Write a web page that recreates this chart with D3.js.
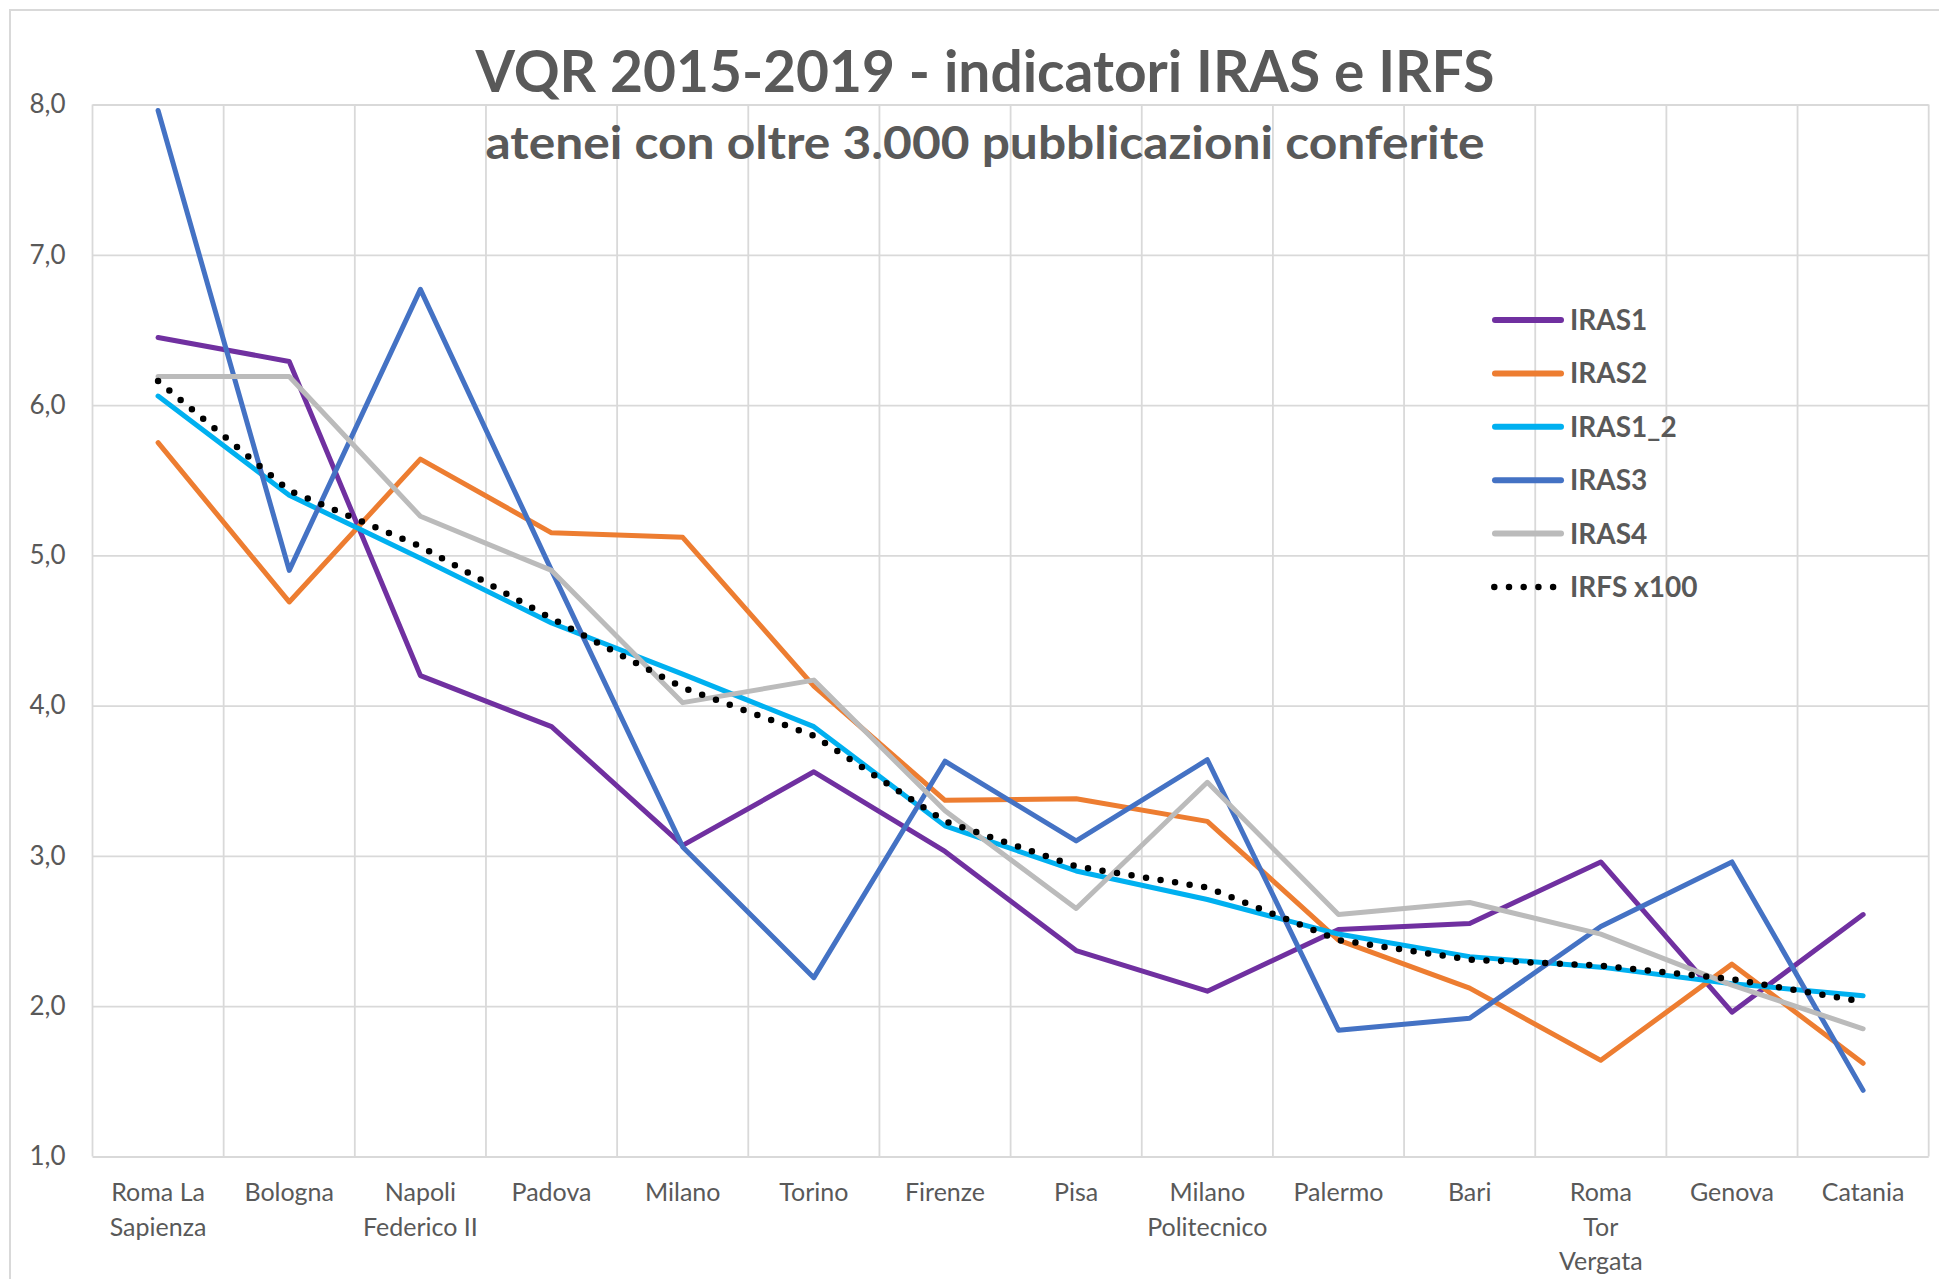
<!DOCTYPE html>
<html>
<head>
<meta charset="utf-8">
<script src="https://cdn.jsdelivr.net/npm/d3@7"></script>
<style>
    body { margin: 0; background: #ffffff; }
    svg { display: block; }
</style>
</head>
<body>
<div id="chart"></div>
<script>
const categories = ['Roma La\nSapienza', 'Bologna', 'Napoli\nFederico II', 'Padova', 'Milano', 'Torino',
    'Firenze', 'Pisa', 'Milano\nPolitecnico', 'Palermo', 'Bari', 'Roma\nTor\nVergata', 'Genova', 'Catania'];

const seriesNames = ['IRAS1', 'IRAS2', 'IRAS1_2', 'IRAS3', 'IRAS4', 'IRFS x100'];
const seriesColors = ['#7030A0', '#ED7D31', '#00B0F0', '#4472C4', '#BBBBBB', '#000000'];

const iras1 = [6.45, 6.29, 4.20, 3.86, 3.07, 3.56, 3.03, 2.37, 2.10, 2.51, 2.55, 2.96, 1.96, 2.61];
const iras2 = [5.75, 4.69, 5.64, 5.15, 5.12, 4.13, 3.37, 3.38, 3.23, 2.44, 2.12, 1.64, 2.28, 1.62];
const iras1_2 = [6.06, 5.40, 4.98, 4.55, 4.21, 3.86, 3.20, 2.90, 2.71, 2.48, 2.33, 2.26, 2.15, 2.07];
const iras3 = [7.96, 4.90, 6.77, 4.90, 3.06, 2.19, 3.63, 3.10, 3.64, 1.84, 1.92, 2.53, 2.96, 1.44];
const iras4 = [6.19, 6.19, 5.26, 4.90, 4.02, 4.17, 3.30, 2.65, 3.49, 2.61, 2.69, 2.48, 2.14, 1.85];
const irfs = [6.16, 5.43, 5.06, 4.58, 4.12, 3.80, 3.23, 2.93, 2.79, 2.44, 2.31, 2.27, 2.18, 2.03];

const yTicks = [1, 2, 3, 4, 5, 6, 7, 8];

const seriesValues = [iras1, iras2, iras1_2, iras3, iras4, irfs];

const svgWidth = 1939;
const svgHeight = 1279;
const textColor = '#595959';
const gridColor = '#D9D9D9';
const fontFamily = 'Lato, "Open Sans", sans-serif';

const plotLeft = 92.5;
const plotRight = 1928.7;
const plotTop = 104.5;
const plotBottom = 1156.5;

const svg = d3.select('#chart')
    .append('svg')
    .attr('width', svgWidth)
    .attr('height', svgHeight)
    .attr('viewBox', '0 0 ' + svgWidth + ' ' + svgHeight);

// chart area border
svg.append('rect')
    .attr('x', 10)
    .attr('y', 10)
    .attr('width', svgWidth + 20)
    .attr('height', svgHeight + 20)
    .attr('fill', 'white')
    .attr('stroke', gridColor)
    .attr('stroke-width', 2);

const x = d3.scaleBand()
    .domain(categories)
    .range([plotLeft, plotRight])
    .paddingInner(0)
    .paddingOuter(0);

const y = d3.scaleLinear()
    .domain([1, 8])
    .range([plotBottom, plotTop]);

const itLocale = d3.formatLocale({ decimal: ',', thousands: '.', grouping: [3], currency: ['', ' €'] });
const formatTick = itLocale.format('.1f');

// horizontal gridlines + y labels
const yAxis = d3.axisLeft(y)
    .tickValues(yTicks)
    .tickSize(-(plotRight - plotLeft))
    .tickPadding(27)
    .tickFormat(formatTick);

const yAxisGroup = svg.append('g')
    .attr('transform', `translate(${plotLeft}, 0)`)
    .call(yAxis);

yAxisGroup.select('.domain').remove();
yAxisGroup.selectAll('.tick line')
    .attr('stroke', gridColor)
    .attr('stroke-width', 1.8);
yAxisGroup.selectAll('.tick text')
    .attr('fill', textColor)
    .attr('font-family', fontFamily)
    .attr('font-size', 26);

// vertical gridlines at category edges
const edges = categories.map(c => x(c)).concat([plotRight]);
svg.append('g')
    .selectAll('line')
    .data(edges)
    .join('line')
    .attr('x1', d => d)
    .attr('x2', d => d)
    .attr('y1', plotTop)
    .attr('y2', plotBottom)
    .attr('stroke', gridColor)
    .attr('stroke-width', 1.8);

// x labels
const xLabels = svg.append('g');
categories.forEach(cat => {
    const lines = cat.split('\n');
    const label = xLabels.append('text')
        .attr('text-anchor', 'middle')
        .attr('fill', textColor)
        .attr('font-family', fontFamily)
        .attr('font-size', 25);
    lines.forEach((line, i) => {
        label.append('tspan')
            .attr('x', x(cat) + x.bandwidth() / 2)
            .attr('y', 1201 + i * 34.5)
            .text(line);
    });
});

// series lines
const lineGen = d3.line()
    .x((d, i) => x(categories[i]) + x.bandwidth() / 2)
    .y(d => y(d));

seriesValues.forEach((values, s) => {
    const path = svg.append('path')
        .datum(values)
        .attr('d', lineGen)
        .attr('fill', 'none')
        .attr('stroke', seriesColors[s])
        .attr('stroke-linecap', 'round')
        .attr('stroke-linejoin', 'round');
    if (s === seriesValues.length - 1) {
        path.attr('stroke-width', 6.5)
            .attr('stroke-dasharray', '0 14.7');
    } else {
        path.attr('stroke-width', 5);
    }
});

// legend
const legend = svg.append('g');
seriesNames.forEach((name, s) => {
    const rowY = 320 + s * 53.4;
    const dotted = s === seriesNames.length - 1;
    legend.append('line')
        .attr('x1', dotted ? 1494.3 : 1495)
        .attr('x2', dotted ? 1560 : 1561)
        .attr('y1', rowY)
        .attr('y2', rowY)
        .attr('stroke', seriesColors[s])
        .attr('stroke-width', dotted ? 6.5 : 6)
        .attr('stroke-linecap', 'round')
        .attr('stroke-dasharray', dotted ? '0 14.7' : null);
    legend.append('text')
        .attr('x', 1570)
        .attr('y', rowY + 10)
        .attr('fill', textColor)
        .attr('font-family', fontFamily)
        .attr('font-weight', 'bold')
        .attr('font-size', 28)
        .text(name);
});

// titles
svg.append('text')
    .attr('x', 985)
    .attr('y', 92)
    .attr('text-anchor', 'middle')
    .attr('fill', textColor)
    .attr('font-family', fontFamily)
    .attr('font-weight', 'bold')
    .attr('font-size', 58)
    .attr('textLength', 1019)
    .attr('lengthAdjust', 'spacingAndGlyphs')
    .text('VQR 2015-2019 - indicatori IRAS e IRFS');

svg.append('text')
    .attr('x', 985)
    .attr('y', 159)
    .attr('text-anchor', 'middle')
    .attr('fill', textColor)
    .attr('font-family', fontFamily)
    .attr('font-weight', 'bold')
    .attr('font-size', 46)
    .attr('textLength', 999)
    .attr('lengthAdjust', 'spacingAndGlyphs')
    .text('atenei con oltre 3.000 pubblicazioni conferite');
</script>
</body>
</html>
